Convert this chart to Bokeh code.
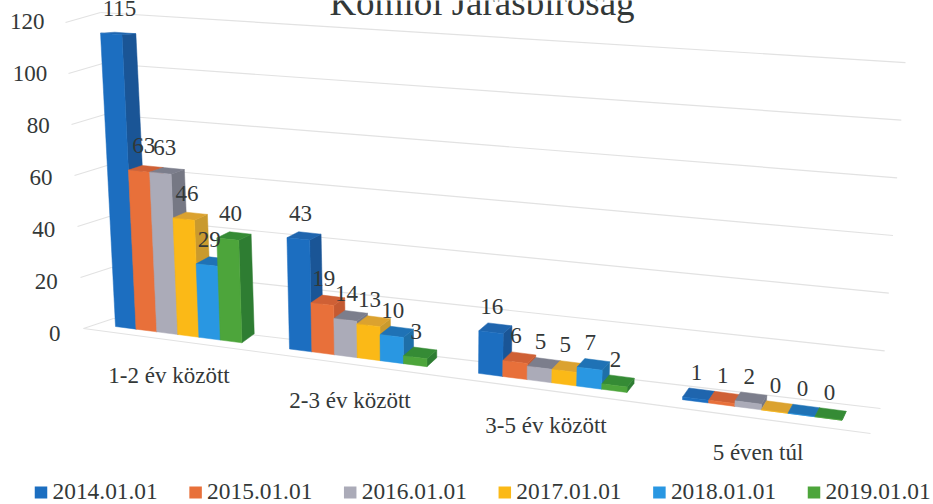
from bokeh.plotting import figure
from bokeh.models import ColumnDataSource, Range1d
from bokeh.core.properties import value
from bokeh.embed import file_html
from bokeh.resources import INLINE

title = "Komlói Járásbíróság"
categories = ["1-2 év között", "2-3 év között", "3-5 év között", "5 éven túl"]
series = ["2014.01.01", "2015.01.01", "2016.01.01", "2017.01.01", "2018.01.01", "2019.01.01"]
v2014 = [115, 43, 16, 1]
v2015 = [63, 19, 6, 1]
v2016 = [63, 14, 5, 2]
v2017 = [46, 13, 5, 0]
v2018 = [29, 10, 7, 0]
v2019 = [40, 3, 2, 0]
y_ticks = [0, 20, 40, 60, 80, 100, 120]
table = [v2014, v2015, v2016, v2017, v2018, v2019]

front = ["#1C6EC0", "#E8703A", "#ABABB8", "#FBB917", "#2997E2", "#4DA53B"]
side = ["#1A5596", "#C45A32", "#767884", "#C99A2E", "#1E6FA8", "#2E7D32"]
top = ["#1F65AE", "#CF6035", "#7C7E8C", "#DBA22F", "#1F72B5", "#358B35"]
FONT = value("Liberation Serif")
INK = "#333838"
GRID = "#e2e2e2"
BL = 0.35  # the svg text sits this many em below the requested baseline

# oblique projection of the chart's 3D box onto the page
def xbase(u):
    return 115 + 166.5 * u + 7.5 * u * u

def corner(cat, edge, v, back=False):
    xb = xbase(cat + edge / 6 * 0.735)
    yb = 326 + 0.129 * (xb - 115)
    h = v * (2.47 + 0.0005 * (xb - 115) + v * 0.0007)
    x = xb + (xb - 430) * 0.000162 * h
    y = yb - h
    if back:
        x += 14 - 0.0135 * (x - 115)
        y += -9 + 8 * h / 293
    return x, y

p = figure(width=933, height=504, output_backend="svg", toolbar_location=None,
           x_range=Range1d(0, 933), y_range=Range1d(504, 0),
           x_axis_location=None, y_axis_location=None,
           min_border=0, outline_line_color=None, margin=(0, 0, 0, 0))
p.grid.visible = False

# walls and floor
for t in y_ticks:
    p.line([83 - t * 0.15, 113 - t * 0.108], [328 - 2.55 * t, 318 - 2.55 * t], line_color=GRID, line_width=1.2)
    p.line([113 - t * 0.108, 880 + t * 0.208], [318 - 2.55 * t, 408 - 2.883 * t], line_color=GRID, line_width=1.2)
p.line([83, 870], [328, 433], line_color=GRID, line_width=1.2)

# bars, painted left to right
for c in range(len(categories)):
    for s in range(len(series)):
        v = table[s][c]
        a = corner(c, s, 0); b = corner(c, s + 1, 0)
        d = corner(c, s + 1, v); e = corner(c, s, v)
        bb = corner(c, s + 1, 0, True); db = corner(c, s + 1, v, True); eb = corner(c, s, v, True)
        p.patch([b[0], bb[0], db[0], d[0]], [b[1], bb[1], db[1], d[1]], fill_color=side[s], line_color=side[s], line_width=0.5)
        p.patch([e[0], d[0], db[0], eb[0]], [e[1], d[1], db[1], eb[1]], fill_color=top[s], line_color=top[s], line_width=0.5)
        p.patch([a[0], b[0], d[0], e[0]], [a[1], b[1], d[1], e[1]], fill_color=front[s], line_color=front[s], line_width=0.5)

# data labels
lx, ly, lt = [], [], []
for c in range(len(categories)):
    for s in range(len(series)):
        v = table[s][c]
        e = corner(c, s, v); d = corner(c, s + 1, v)
        a = corner(c, s, 0); b = corner(c, s + 1, 0)
        mid_top = (e[0] + d[0]) / 2
        mid_base = (a[0] + b[0]) / 2
        lx.append(mid_top + (mid_base - mid_top) / 2 + 1)
        ly.append(e[1] - 16.5 - BL * 23)
        lt.append(str(v))
p.text(x="x", y="y", text="t", source=ColumnDataSource(dict(x=lx, y=ly, t=lt)), text_font=FONT,
       text_font_size=value("23px"), text_color=INK, text_align="center", text_baseline="alphabetic")

# value-axis labels
p.text(x=[60 - t * 0.133 for t in y_ticks], y=[341 - 2.6 * t - BL * 23 for t in y_ticks], text=[str(t) for t in y_ticks],
       text_font=FONT, text_font_size=value("23px"), text_color=INK, text_align="right", text_baseline="alphabetic")

# category labels
p.text(x=[168.5, 349.5, 545.5, 757.5], y=[a - BL * 23 for a in [383, 408, 433, 460]], text=categories, text_font=FONT,
       text_font_size=value("23px"), text_color=INK, text_align="center", text_baseline="alphabetic")

# title
p.text(x=[481.5], y=[15 - BL * 37], text=[title], text_font=FONT, text_font_size=value("37px"), text_color=INK,
       text_align="center", text_baseline="alphabetic")

# legend
lg_x = [34 + 154.6 * i for i in range(len(series))]
p.rect(x=[a + 6.5 for a in lg_x], y=[492] * len(series), width=12.5, height=12, fill_color=front, line_color=None)
p.text(x=[a + 18 for a in lg_x], y=[499 - BL * 23.4] * len(series), text=series, text_font=FONT, text_font_size=value("23.4px"),
       text_color=INK, text_align="left", text_baseline="alphabetic")

open("out.html", "w").write(file_html(p, INLINE))
